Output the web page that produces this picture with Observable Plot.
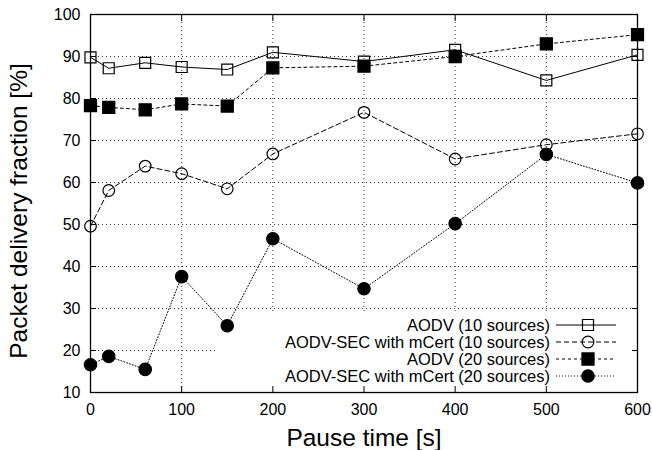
<!DOCTYPE html>
<html><head><meta charset="utf-8">
<script src="https://cdn.jsdelivr.net/npm/d3@7"></script>
<script src="https://cdn.jsdelivr.net/npm/@observablehq/plot@0.6"></script>
<style>
body{margin:0;background:#fff;}
svg{font-family:"Liberation Sans",Arial,sans-serif;}
</style>
</head><body><div id="chart"></div>
<script>
const pauseTimes = [0, 20, 60, 100, 150, 200, 300, 400, 500, 600];
const aodv10 = [89.8, 87.2, 88.5, 87.5, 86.9, 91.0, 88.8, 91.6, 84.3, 90.4];
const sec10  = [49.6, 58.1, 63.9, 62.1, 58.5, 66.8, 76.7, 65.6, 69.0, 71.6];
const aodv20 = [78.3, 77.9, 77.3, 78.7, 78.2, 87.3, 87.7, 90.0, 93.0, 95.2];
const sec20  = [16.6, 18.6, 15.5, 37.6, 25.9, 46.6, 34.7, 50.2, 66.7, 59.9];
const seriesNames = ["AODV (10 sources)", "AODV-SEC with mCert (10 sources)", "AODV (20 sources)", "AODV-SEC with mCert (20 sources)"];
const xTicks = [0, 100, 200, 300, 400, 500, 600];
const yTicks = [10, 20, 30, 40, 50, 60, 70, 80, 90, 100];
const xTitle = "Pause time [s]";
const yTitle = "Packet delivery fraction [%]";

const seriesValues = [aodv10, sec10, aodv20, sec20];
const styles = [
  {dash: null, symbol: "square", fill: "none", r: 6.2},
  {dash: "5,3", symbol: "circle", fill: "none", r: 5.8},
  {dash: "3,3", symbol: "square", fill: "black", r: 6.8},
  {dash: "1,2", symbol: "circle", fill: "black", r: 6.2}
];

const rows = seriesNames.map((name, i) => pauseTimes.map((t, j) => ({x: t, y: seriesValues[i][j], series: name})));

const marks = [
  Plot.ruleY(yTicks.slice(1, -1), {y: d => d, stroke: "#000", strokeOpacity: 0.8, strokeDasharray: "1,3"}),
  Plot.ruleX(xTicks.slice(1, -1), {x: d => d, stroke: "#000", strokeOpacity: 0.8, strokeDasharray: "1,3"})
];
rows.forEach((r, i) => {
  marks.push(Plot.line(r, {x: "x", y: "y", stroke: "black", strokeWidth: 1, strokeDasharray: styles[i].dash}));
});
rows.forEach((r, i) => {
  marks.push(Plot.dot(r, {x: "x", y: "y", symbol: styles[i].symbol, r: styles[i].r, fill: styles[i].fill, stroke: "black", strokeWidth: 1.2}));
});
marks.push(
  Plot.axisX(xTicks, {anchor: "bottom", tickSize: 0, tickPadding: 11, fontSize: 16, label: null}),
  Plot.axisY(yTicks, {anchor: "left", tickSize: 0, tickPadding: 10, fontSize: 16, label: null}),
  Plot.axisX(xTicks, {anchor: "bottom", tickSize: 6, dy: -6, tickFormat: () => "", label: null}),
  Plot.axisX(xTicks, {anchor: "top", tickSize: 6, dy: 6, tickFormat: () => "", label: null}),
  Plot.axisY(yTicks, {anchor: "left", tickSize: 6, dx: 6, tickFormat: () => "", label: null}),
  Plot.axisY(yTicks, {anchor: "right", tickSize: 6, dx: -6, tickFormat: () => "", label: null}),
  Plot.frame({stroke: "black", strokeWidth: 1.3})
);

const plot = Plot.plot({
  width: 652, height: 450,
  marginLeft: 90, marginRight: 15, marginTop: 14, marginBottom: 58,
  x: {domain: [0, 600]},
  y: {domain: [10, 100]},
  style: {fontFamily: "'Liberation Sans', Arial, sans-serif", fontSize: "16px", background: "white", color: "black"},
  marks
});
document.getElementById("chart").appendChild(plot);

const svg = d3.select(plot);
// legend background (clears grid behind key, as in gnuplot)
const firstLine = plot.querySelector('g[aria-label="line"]');
const bg = document.createElementNS("http://www.w3.org/2000/svg", "rect");
bg.setAttribute("x", 218); bg.setAttribute("y", 313);
bg.setAttribute("width", 418); bg.setAttribute("height", 78);
bg.setAttribute("fill", "white");
plot.insertBefore(bg, firstLine);

// axis titles
svg.append("text").attr("x", 364).attr("y", 446).attr("text-anchor", "middle")
  .attr("font-size", 24.5).attr("fill", "black").text(xTitle);
svg.append("text").attr("transform", "translate(27,211) rotate(-90)").attr("text-anchor", "middle")
  .attr("font-size", 24.5).attr("fill", "black").text(yTitle);

// legend
const lg = svg.append("g").attr("font-size", 16.5).attr("fill", "black");
seriesNames.forEach((name, i) => {
  const cy = 325 + i * 17;
  lg.append("text").attr("x", 550).attr("y", cy).attr("dy", "0.36em").attr("text-anchor", "end").text(name);
  lg.append("line").attr("x1", 556).attr("x2", 616).attr("y1", cy).attr("y2", cy)
    .attr("stroke", "black").attr("stroke-width", 1).attr("stroke-dasharray", styles[i].dash);
  const s = styles[i];
  const sym = d3.symbol(s.symbol === "square" ? d3.symbolSquare : d3.symbolCircle, s.r * s.r * Math.PI)();
  lg.append("path").attr("d", sym).attr("transform", `translate(588,${cy})`)
    .attr("fill", s.fill).attr("stroke", "black").attr("stroke-width", 1.2);
});
</script>
</body></html>
